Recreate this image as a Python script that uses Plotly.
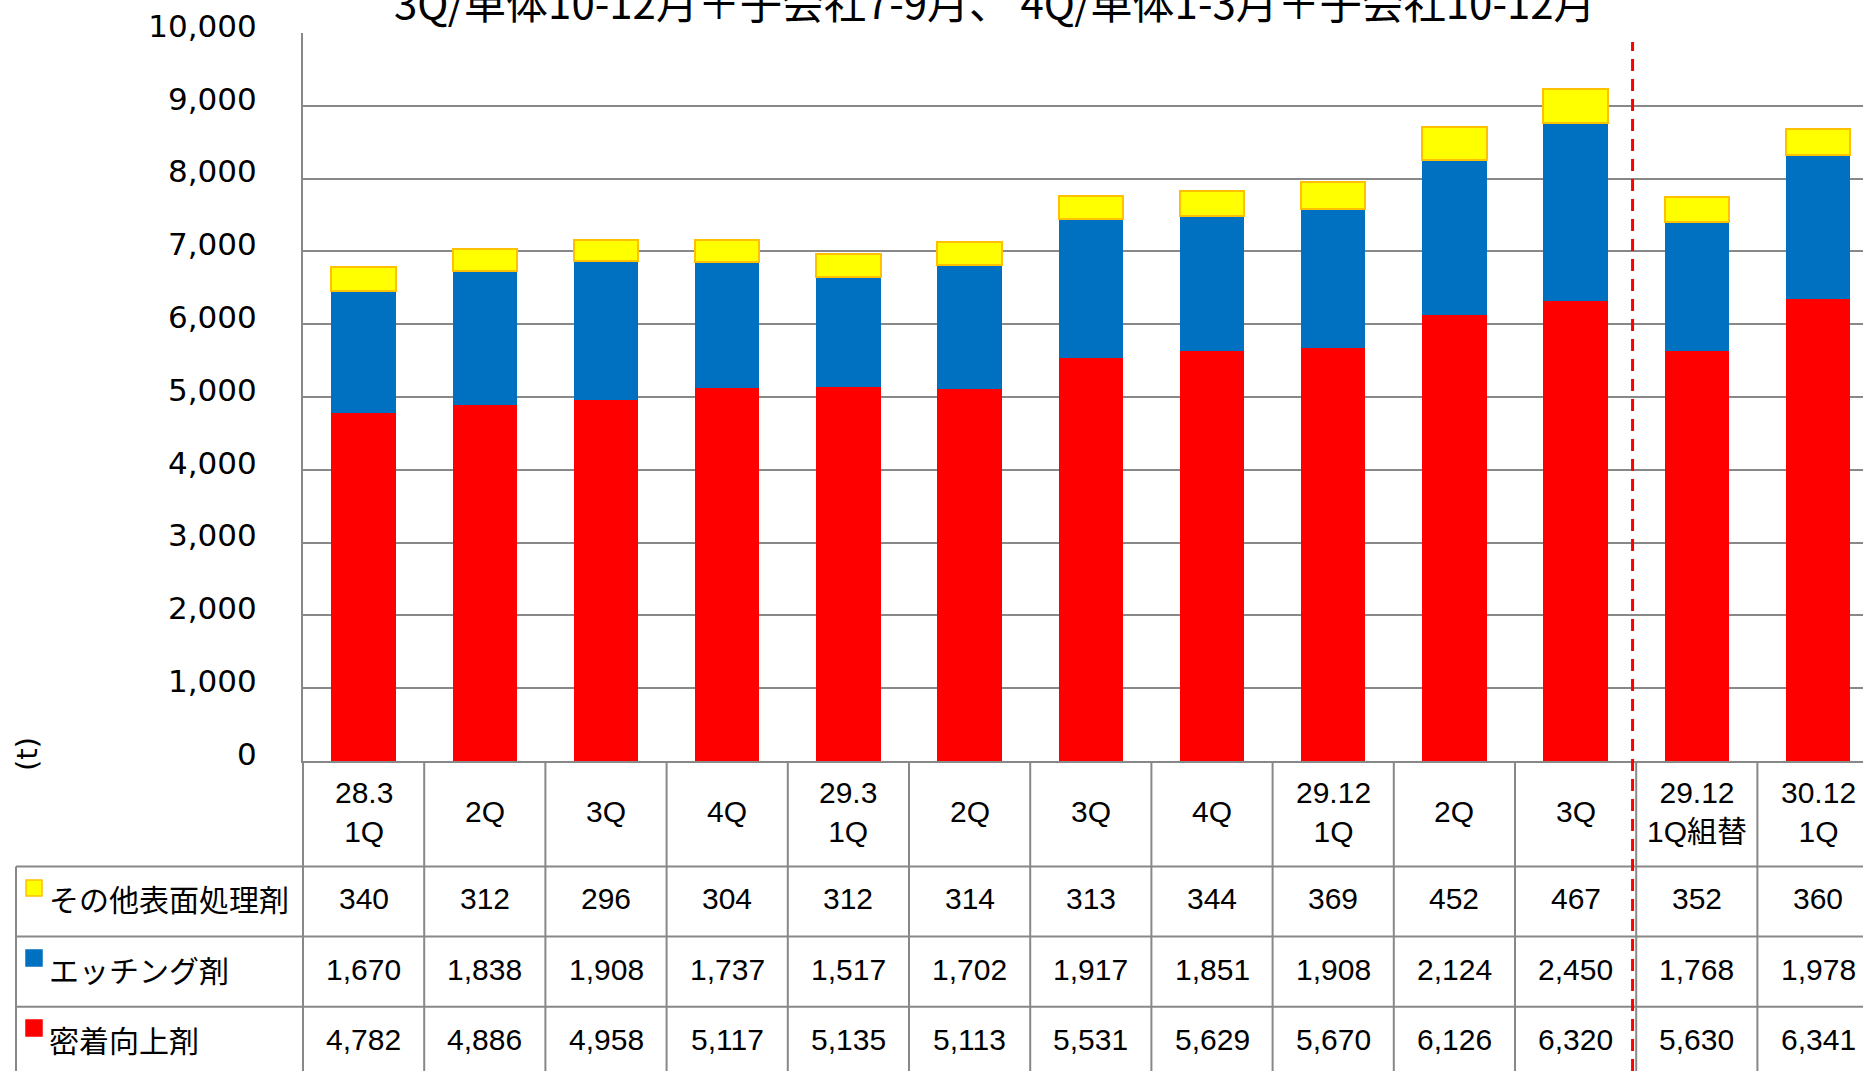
import plotly.graph_objects as go

# ---- data -------------------------------------------------------------
categories = ["28.3<br>1Q", "2Q", "3Q", "4Q", "29.3<br>1Q", "2Q", "3Q", "4Q",
              "29.12<br>1Q", "2Q", "3Q", "29.12<br>1Q組替", "30.12<br>1Q"]
series_names = ["その他表面処理剤", "エッチング剤", "密着向上剤"]
other = [340, 312, 296, 304, 312, 314, 313, 344, 369, 452, 467, 352, 360]
etching = [1670, 1838, 1908, 1737, 1517, 1702, 1917, 1851, 1908, 2124, 2450, 1768, 1978]
adhesion = [4782, 4886, 4958, 5117, 5135, 5113, 5531, 5629, 5670, 6126, 6320, 5630, 6341]
y_ticks = list(range(0, 10001, 1000))
title_text = "3Q/単体10-12月＋子会社7-9月、 4Q/単体1-3月＋子会社10-12月"
unit_label = "(t)"
split_position = 10.47   # dashed separator before the restated quarter

# ---- layout constants (pixels) ----------------------------------------
W, H = 1863, 1071
PLOT_L, PLOT_T, PLOT_B = 303, 33, 761
CAT_W = 121.2
TABLE_L = 16
HEADER_MID = 811.5
ROW_LINES = [866.5, 936.5, 1006.7]
ROW_MID = [898.5, 969.5, 1039.5]
SWATCH_TOP = [880, 950, 1020]

GRID = "#888888"
RED, BLUE, YELLOW, GOLD = "#FF0000", "#0070C0", "#FFFF00", "#FFC000"
NUM_FONT = "Liberation Sans, Arial, Noto Sans CJK JP"
JP_FONT = "Noto Sans CJK JP, sans-serif"


def py(p):
    return 1 - p / H


def px(p):
    return p / W


x = list(range(len(categories)))

fig = go.Figure()
stack = [
    (series_names[2], adhesion, RED, RED, 0),
    (series_names[1], etching, BLUE, BLUE, 0),
    (series_names[0], other, YELLOW, GOLD, 2),
]
for name, vals, fill, edge, ew in stack:
    fig.add_bar(x=x, y=vals, name=name, width=0.53,
                marker=dict(color=fill, line=dict(color=edge, width=ew)))

shapes = []
# table horizontal rules
for yy in ROW_LINES:
    shapes.append(dict(type="line", xref="paper", yref="paper",
                       x0=px(TABLE_L), x1=1, y0=py(yy), y1=py(yy),
                       line=dict(color=GRID, width=2)))
# table outer left edge (label rows only) and label/value divider
shapes.append(dict(type="line", xref="paper", yref="paper",
                   x0=px(TABLE_L), x1=px(TABLE_L), y0=0, y1=py(ROW_LINES[0]),
                   line=dict(color=GRID, width=2)))
shapes.append(dict(type="line", xref="paper", yref="paper",
                   x0=px(PLOT_L), x1=px(PLOT_L), y0=0, y1=py(PLOT_B),
                   line=dict(color=GRID, width=2)))
# column dividers between categories
for i in range(1, len(categories)):
    shapes.append(dict(type="line", xref="x", yref="paper",
                       x0=i - 0.5, x1=i - 0.5, y0=0, y1=py(PLOT_B),
                       line=dict(color=GRID, width=2)))
# dashed separator
shapes.append(dict(type="line", xref="x", yref="paper",
                   x0=split_position, x1=split_position, y0=0, y1=py(42),
                   line=dict(color=RED, width=3, dash="12px,8px")))
# legend swatches
for top, fill, edge in zip(SWATCH_TOP, [YELLOW, BLUE, RED], [GOLD, BLUE, RED]):
    shapes.append(dict(type="rect", xref="paper", yref="paper",
                       x0=px(26), x1=px(42), y0=py(top + 16), y1=py(top),
                       fillcolor=fill, line=dict(color=edge, width=1.5)))

annotations = []
# header row with period labels
for i, c in enumerate(categories):
    annotations.append(dict(x=i, xref="x", y=py(HEADER_MID), yref="paper",
                            text=c, showarrow=False, yanchor="middle",
                            font=dict(family=NUM_FONT, size=30, color="black")))
# value rows
for row_vals, name, mid in zip([other, etching, adhesion], series_names, ROW_MID):
    annotations.append(dict(x=px(47), xref="paper", y=py(mid - 1), yref="paper",
                            text=name, showarrow=False, xanchor="left",
                            yanchor="middle",
                            font=dict(family=JP_FONT, size=30, color="black")))
    for i, v in enumerate(row_vals):
        annotations.append(dict(x=i, xref="x", y=py(mid), yref="paper",
                                text=f"{v:,}", showarrow=False, yanchor="middle",
                                font=dict(family=NUM_FONT, size=30, color="black")))
# unit label
annotations.append(dict(x=px(27), xref="paper", y=py(754), yref="paper",
                        text=unit_label, showarrow=False, textangle=-90,
                        xanchor="center", yanchor="middle",
                        font=dict(family="DejaVu Sans", size=29, color="black")))
# title line (upper part runs off the top edge)
annotations.append(dict(x=px(995), xref="paper", y=py(0), yref="paper",
                        text=title_text, showarrow=False,
                        xanchor="center", yanchor="middle",
                        font=dict(family=JP_FONT, size=42, color="black")))

fig.update_layout(
    width=W, height=H,
    margin=dict(l=0, r=0, t=0, b=0, autoexpand=False),
    paper_bgcolor="white", plot_bgcolor="white",
    barmode="stack", showlegend=False,
    shapes=shapes, annotations=annotations,
    xaxis=dict(domain=[px(PLOT_L), 1],
               range=[-0.5, -0.5 + (W - PLOT_L) / CAT_W],
               showticklabels=False, showgrid=False, zeroline=False,
               showline=True, linecolor=GRID, linewidth=2, ticks=""),
    yaxis=dict(domain=[py(PLOT_B), py(PLOT_T)], range=[0, 10000],
               tickvals=y_ticks, tickformat=",d",
               showgrid=True, gridcolor=GRID, gridwidth=2,
               zeroline=False, showline=True, linecolor=GRID, linewidth=2,
               ticks="", ticklabelstandoff=38, ticklabelshift=-7,
               tickfont=dict(family="DejaVu Sans", size=31, color="black")),
)

fig.write_html("out.html")
